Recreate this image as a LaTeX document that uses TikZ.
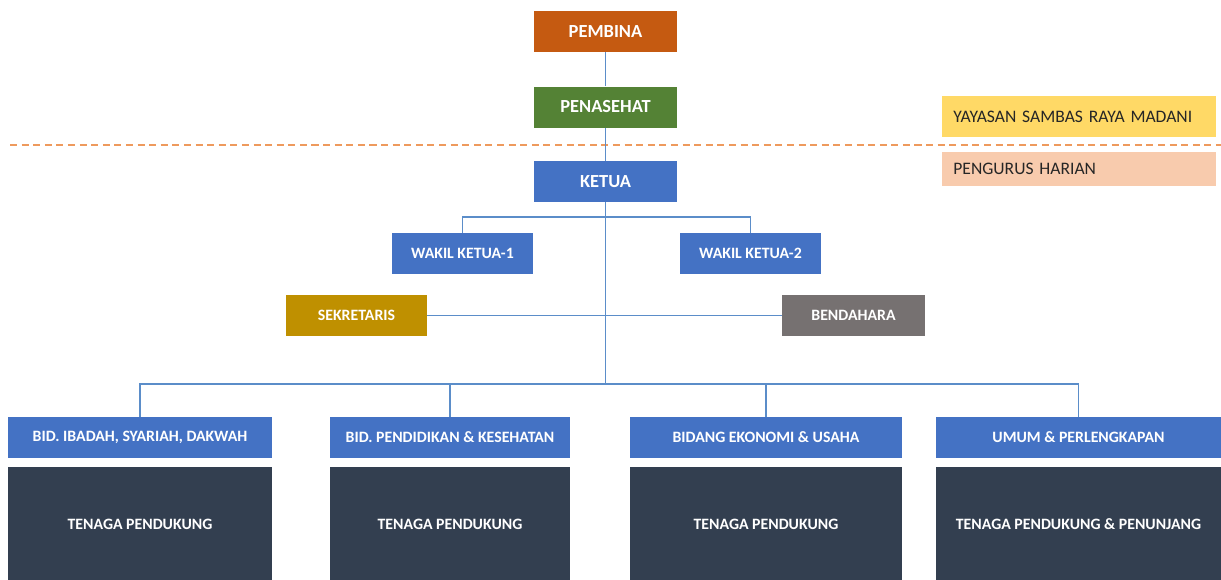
\documentclass[tikz,border=0pt]{standalone}
\usepackage{fontspec}
\setmainfont{Carlito}
\usepackage{xcolor}
\usetikzlibrary{positioning,calc}
\definecolor{cPembina}{HTML}{C55A11}
\definecolor{cPenasehat}{HTML}{548235}
\definecolor{cBiru}{HTML}{4472C4}
\definecolor{cSekre}{HTML}{BF9000}
\definecolor{cBenda}{HTML}{767171}
\definecolor{cTenaga}{HTML}{333F50}
\definecolor{cYayasan}{HTML}{FFD966}
\definecolor{cHarian}{HTML}{F8CBAD}
\definecolor{cGaris}{HTML}{5B8DC9}
\definecolor{cPisah}{HTML}{EE9A5D}

\begin{document}
\begin{tikzpicture}[x=0.02cm,y=-0.02cm,
  box/.style={rectangle,fill=#1,text=white,minimum height=0.82cm,align=center,font=\fontsize{10.5}{12}\selectfont\bfseries},
  topbox/.style={box=#1,minimum width=2.86cm},
  wakil/.style={box=cBiru,minimum width=2.84cm,font=\fontsize{9}{11}\selectfont\bfseries},
  bidang/.style={box=cBiru,minimum width=#1,font=\fontsize{9}{11}\selectfont\bfseries},
  tenaga/.style={box=cTenaga,minimum width=#1,minimum height=2.28cm,font=\fontsize{9}{11}\selectfont\bfseries},
  legend/.style={rectangle,fill=#1,text=black!85,anchor=west,text width=5.04cm,inner xsep=0.22cm,align=left,font=\fontsize{10}{12}\selectfont},
  link/.style={draw=cGaris,line width=0.9pt},
  sep/.style={draw=cPisah,line width=1.2pt,dash pattern=on 4pt off 2.6pt}
]
  \useasboundingbox (0,0) rectangle (1221,579);
  % pembina & penasehat
  \node[topbox=cPembina] (pembina) at (605.5,31.5) {PEMBINA};
  \node[topbox=cPenasehat] (penasehat) at (605.5,107) {PENASEHAT};
  \node[topbox=cBiru] (ketua) at (605.5,181.5) {KETUA};
  % batas yayasan / pengurus
  \coordinate (batasL) at (10,145);
  \coordinate (batasR) at (1221,145);
  \draw[sep] (batasL) -- (batasR);
  \node[legend=cYayasan,minimum height=0.82cm] (yayasan) at (942,116.5) {YAYASAN SAMBAS RAYA MADANI};
  \node[legend=cHarian,minimum height=0.68cm] (harian) at (942,169) {PENGURUS HARIAN};
  % wakil, sekretaris, bendahara
  \node[wakil] (wakil1) at (462.5,253.5) {WAKIL KETUA-1};
  \node[wakil] (wakil2) at (750.5,253.5) {WAKIL KETUA-2};
  \node[box=cSekre,minimum width=2.82cm,font=\fontsize{9}{11}\selectfont\bfseries] (sekretaris) at (356.5,315.5) {SEKRETARIS};
  \node[box=cBenda,minimum width=2.86cm,font=\fontsize{9}{11}\selectfont\bfseries] (bendahara) at (853.5,315.5) {BENDAHARA};
  % bidang
  \node[bidang=5.28cm] (bid1) at (140,437.5) {BID. IBADAH, SYARIAH, DAKWAH};
  \node[bidang=4.8cm] (bid2) at (450,437.5) {BID. PENDIDIKAN \& KESEHATAN};
  \node[bidang=5.44cm] (bid3) at (766,437.5) {BIDANG EKONOMI \& USAHA};
  \node[bidang=5.7cm] (bid4) at (1078.5,437.5) {UMUM \& PERLENGKAPAN};
  \node[tenaga=5.28cm] (ten1) at (140,524) {TENAGA PENDUKUNG};
  \node[tenaga=4.8cm] (ten2) at (450,524) {TENAGA PENDUKUNG};
  \node[tenaga=5.44cm] (ten3) at (766,524) {TENAGA PENDUKUNG};
  \node[tenaga=5.7cm] (ten4) at (1078.5,524) {TENAGA PENDUKUNG \& PENUNJANG};
  % garis
  \coordinate (wk) at (605.5,217);
  \coordinate (hub) at (605.5,384);
  \draw[link] (pembina) -- (penasehat);
  \draw[link] (penasehat) -- (ketua);
  \draw[link] (ketua) -- (hub);
  \draw[link] (wakil1.north) |- (wk) -| (wakil2.north);
  \draw[link] (sekretaris) -- (bendahara);
  \draw[link] (bid1.north) |- (hub) -| (bid4.north);
  \draw[link] (bid2.north) |- (hub);
  \draw[link] (bid3.north) |- (hub);
\end{tikzpicture}
\end{document}
